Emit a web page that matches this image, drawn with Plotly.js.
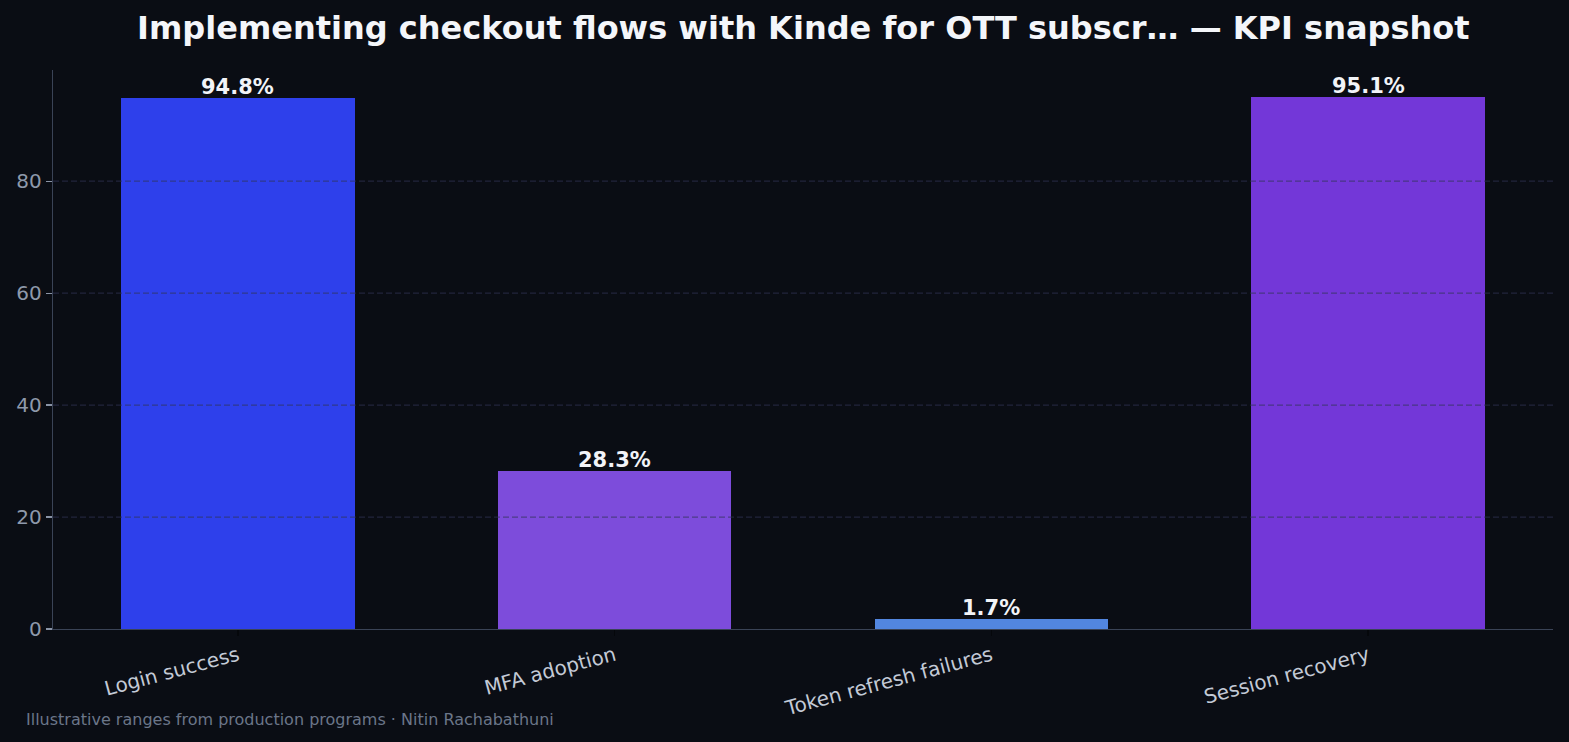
<!DOCTYPE html>
<html>
<head>
<meta charset="utf-8">
<script src="https://cdn.plot.ly/plotly-3.0.1.min.js"></script>
<style>
  html, body { margin: 0; padding: 0; background: #0a0d14; }
  #chart { width: 1569px; height: 742px; }
</style>
</head>
<body>
<div id="chart"></div>
<script>
// KPI categories and their percentage values
const categories = ["Login success", "MFA adoption", "Token refresh failures", "Session recovery"];
const values = [94.8, 28.3, 1.7, 95.1];
const barColors = ["#2e40eb", "#7d4cdb", "#5286df", "#7337d8"];
const yTickValues = [0, 20, 40, 60, 80];

const titleText = "Implementing checkout flows with Kinde for OTT subscr… — KPI snapshot";
const footerText = "Illustrative ranges from production programs · Nitin Rachabathuni";

const FONT = "DejaVu Sans, Verdana, sans-serif";
const yMax = Math.max(...values) * 1.05;
const xPos = categories.map((_, i) => i);

const trace = {
  type: "bar",
  x: xPos,
  y: values,
  width: 0.62,
  marker: { color: barColors, line: { width: 0 } },
  hoverinfo: "skip"
};

// value labels just above each bar
const valueLabels = values.map((v, i) => ({
  text: "<b>" + v.toFixed(1) + "%</b>",
  x: xPos[i], y: v, xref: "x", yref: "y",
  xanchor: "center", yanchor: "bottom",
  yshift: -3,
  showarrow: false,
  font: { family: FONT, size: 21, color: "#f2f4f8" }
}));

// dashed guide lines sit above the bars
const gridShapes = yTickValues.filter(v => v > 0).map(v => ({
  type: "line", xref: "paper", yref: "y",
  x0: 0, x1: 1, y0: v, y1: v,
  layer: "above",
  line: { color: "rgba(48,54,84,0.62)", width: 1.2, dash: "6px,3px" }
}));

const layout = {
  width: 1569, height: 742,
  paper_bgcolor: "#0a0d14",
  plot_bgcolor: "#0a0d14",
  margin: { l: 53, r: 16, t: 70, b: 113 },
  showlegend: false,
  bargap: 0,
  title: {
    text: "<b>" + titleText + "</b>",
    font: { family: FONT, size: 32, color: "#f4f6fa" },
    x: 0.512, xanchor: "center", y: 0.962, yanchor: "middle"
  },
  xaxis: {
    range: [-0.491, 3.491],
    tickmode: "array",
    tickvals: xPos,
    ticktext: categories,
    tickangle: -15,
    ticks: "outside", ticklen: 6, tickcolor: "#05070b", tickwidth: 1.2,
    tickfont: { family: FONT, size: 20, color: "#c3cad6" },
    showgrid: false, zeroline: false,
    showline: true, linecolor: "#3a4356", linewidth: 1.3,
    fixedrange: true
  },
  yaxis: {
    range: [0, yMax],
    tickmode: "array",
    tickvals: yTickValues,
    ticks: "outside", ticklen: 6, tickcolor: "#8a94a6", tickwidth: 1.2,
    tickfont: { family: FONT, size: 20, color: "#8e99ab" },
    showgrid: false, zeroline: false,
    showline: true, linecolor: "#3a4356", linewidth: 1.3,
    fixedrange: true
  },
  shapes: gridShapes,
  annotations: valueLabels.concat([{
    text: footerText,
    xref: "paper", yref: "paper",
    x: -0.0195, y: -0.162, xanchor: "left", yanchor: "middle",
    showarrow: false,
    font: { family: FONT, size: 16, color: "#6b7689" }
  }])
};

Plotly.newPlot("chart", [trace], layout, { displayModeBar: false, staticPlot: true });
</script>
</body>
</html>
